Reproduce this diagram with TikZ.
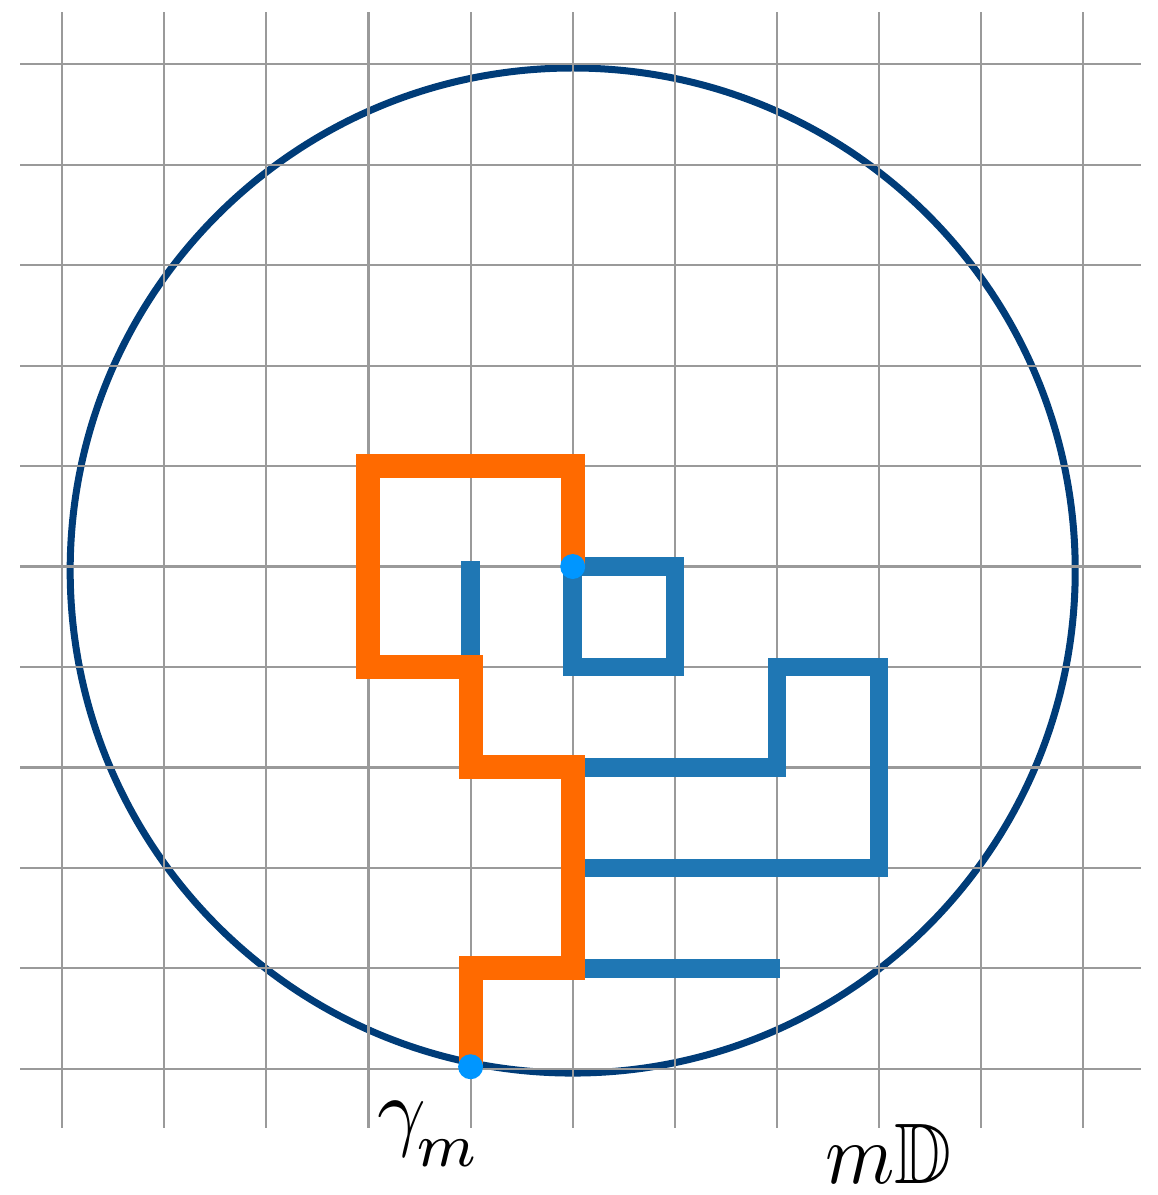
\documentclass[tikz,border=0pt]{standalone}
\usepackage{graphicx}
\usepackage{amssymb}
\definecolor{gridgray}{HTML}{9A9A9A}
\definecolor{navy}{HTML}{003C78}
\definecolor{walkblue}{HTML}{1F77B4}
\definecolor{walkorange}{HTML}{FF6A00}
\definecolor{dotblue}{HTML}{0096FF}
\tikzset{
  gridline/.style={draw=gridgray,line width=2.2pt},
  diskline/.style={draw=navy,line width=7pt},
  bluewalk/.style={draw=walkblue,line width=18.5pt,line join=miter,line cap=butt},
  orangewalk/.style={draw=walkorange,line width=24pt,line join=miter,line cap=butt},
  enddot/.style={fill=dotblue},
  lbl/.style={inner sep=0pt}
}
\begin{document}
\begin{tikzpicture}[x=102.1pt,y=100.44pt]
\useasboundingbox (-5.609,5.640) rectangle (5.723,-6.257);
% domain circle
\draw[diskline] (0,-0.04) circle[radius=502.5pt];
% grid
\foreach \i in {-5,...,5} {
  \draw[gridline] (\i,5.516) -- (\i,-5.590);
  \draw[gridline] (-5.413,\i) -- (5.570,\i);
}
% blue walks
\draw[bluewalk] (0,0) -- (1,0) -- (1,-1) -- (0,-1) -- cycle;
\draw[bluewalk] (-1,0.05) -- (-1,-1);
\draw[bluewalk] (0,-2) -- (2,-2) -- (2,-1) -- (3,-1) -- (3,-3) -- (0,-3);
\draw[bluewalk] (0,-4) -- (2.03,-4);
% orange path gamma_m
\draw[orangewalk] (-1,-5) -- (-1,-4) -- (0,-4) -- (0,-2) -- (-1,-2) -- (-1,-1)
  -- (-2,-1) -- (-2,1) -- (0,1) -- (0,0);
% end points
\fill[enddot] (0,0) circle[radius=12.5pt];
\fill[enddot] (-1,-4.98) circle[radius=12.5pt];
% labels
\node[lbl,anchor=base west] (gam) at (-1.918,-5.700)
  {\scalebox{8.5}[8.8]{$\gamma_{\kern-0.5pt\lower1.6pt\hbox{$\scriptstyle m$}}$}};
\node[lbl,anchor=base west] (mD) at (2.471,-6.140)
  {\scalebox{7.9}[8.6]{$m\mathbb{D}$}};
\end{tikzpicture}
\end{document}
